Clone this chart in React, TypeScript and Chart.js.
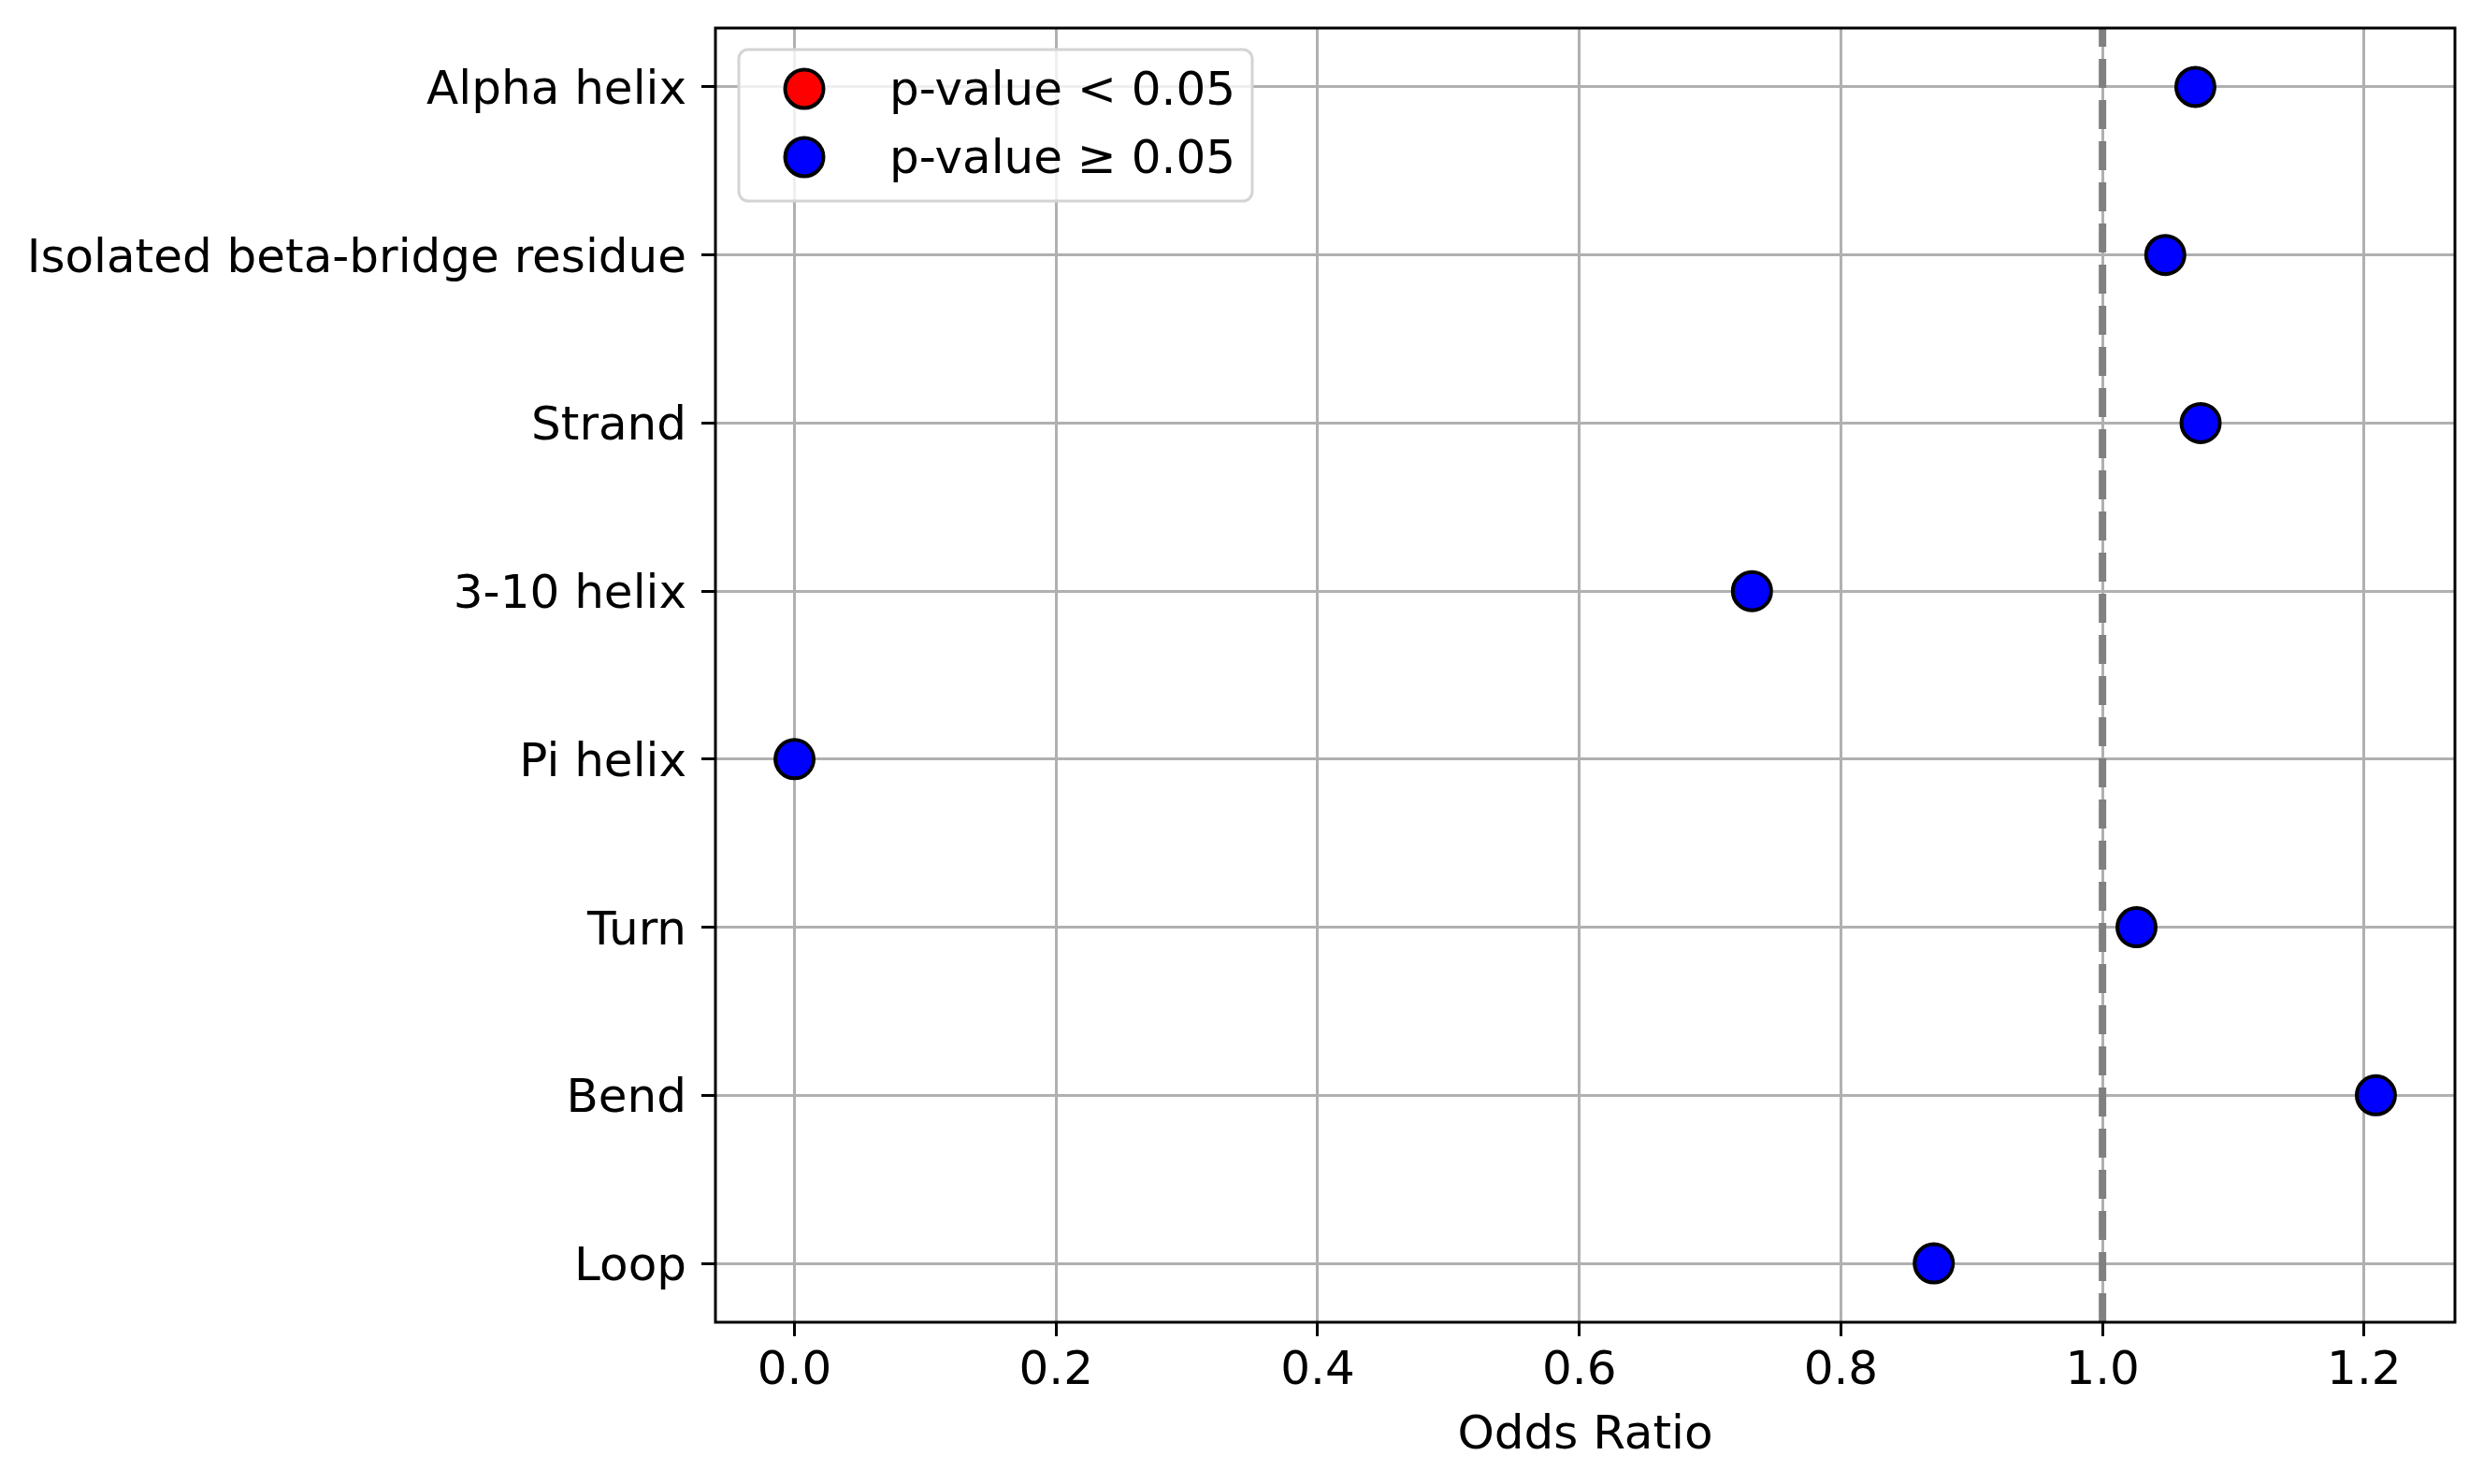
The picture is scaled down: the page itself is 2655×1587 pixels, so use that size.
import React, { useEffect, useRef } from "react";
import { Chart, registerables } from "chart.js";

Chart.register(...registerables);

const categories = [
  "Alpha helix",
  "Isolated beta-bridge residue",
  "Strand",
  "3-10 helix",
  "Pi helix",
  "Turn",
  "Bend",
  "Loop",
];
const oddsRatios = [1.071, 1.048, 1.075, 0.732, 0.0, 1.026, 1.209, 0.871];
// p < 0.05 ? none of them are
const significant = [false, false, false, false, false, false, false, false];

const xTickValues = [0, 0.2, 0.4, 0.6, 0.8, 1.0, 1.2];
const xTickLabels = ["0.0", "0.2", "0.4", "0.6", "0.8", "1.0", "1.2"];
const referenceOdds = 1.0;
const legendLabels = ["p-value < 0.05", "p-value \u2265 0.05"];

const W = 2655;
const H = 1587;
const FONT = "DejaVu Sans";

// matplotlib-style 5% margins
const xLo = Math.min(...oddsRatios);
const xHi = Math.max(...oddsRatios);
const xPad = (xHi - xLo) * 0.05;
const yPad = (categories.length - 1) * 0.05;

const points = (sig: boolean) =>
  oddsRatios
    .map((v, i) => ({ x: v, y: i, keep: significant[i] === sig }))
    .filter((p) => p.keep)
    .map(({ x, y }) => ({ x, y }));

const overlay = {
  id: "overlay",
  afterDraw(chart: any) {
    const { ctx, chartArea: a, scales } = chart;
    ctx.save();

    // reference line at OR = 1
    const rx = scales.x.getPixelForValue(referenceOdds);
    ctx.beginPath();
    ctx.rect(a.left, a.top, a.right - a.left, a.bottom - a.top);
    ctx.clip();
    ctx.strokeStyle = "#808080";
    ctx.lineWidth = 8;
    ctx.setLineDash([31, 13]);
    ctx.beginPath();
    ctx.moveTo(rx, a.bottom);
    ctx.lineTo(rx, a.top);
    ctx.stroke();
    ctx.restore();

    // spines
    ctx.save();
    ctx.strokeStyle = "#000";
    ctx.lineWidth = 3;
    ctx.strokeRect(a.left, a.top, a.right - a.left, a.bottom - a.top);

    // legend box
    const bx = a.left + 25;
    const by = a.top + 23;
    const bw = 549;
    const bh = 162;
    ctx.beginPath();
    ctx.roundRect(bx, by, bw, bh, 10);
    ctx.fillStyle = "rgba(255,255,255,0.8)";
    ctx.fill();
    ctx.strokeStyle = "#d4d4d4";
    ctx.lineWidth = 3;
    ctx.stroke();

    ctx.font = `50px "${FONT}"`;
    ctx.textBaseline = "middle";
    ctx.textAlign = "left";
    chart.data.datasets.forEach((ds: any, i: number) => {
      const cy = by + 42 + i * 73;
      ctx.beginPath();
      ctx.arc(bx + 70, cy, 20.5, 0, Math.PI * 2);
      ctx.fillStyle = ds.backgroundColor;
      ctx.fill();
      ctx.lineWidth = 4;
      ctx.strokeStyle = "#000";
      ctx.stroke();
      ctx.fillStyle = "#000";
      ctx.fillText(legendLabels[i], bx + 161, cy + 4);
    });
    ctx.restore();
  },
};

const App: React.FC = () => {
  const canvasRef = useRef<HTMLCanvasElement | null>(null);

  useEffect(() => {
    if (!canvasRef.current) return;
    const ctx = canvasRef.current.getContext("2d");
    if (!ctx) return;

    const chart = new Chart(ctx, {
      type: "scatter",
      data: {
        datasets: [
          {
            label: legendLabels[0],
            data: points(true),
            backgroundColor: "red",
            borderColor: "#000",
            borderWidth: 4,
            pointRadius: 20.5,
          },
          {
            label: legendLabels[1],
            data: points(false),
            backgroundColor: "blue",
            borderColor: "#000",
            borderWidth: 4,
            pointRadius: 20.5,
          },
        ],
      },
      options: {
        responsive: false,
        animation: false,
        devicePixelRatio: 1,
        events: [],
        layout: { padding: { top: 30, right: 30, left: 0, bottom: 0 } },
        plugins: {
          legend: { display: false },
          tooltip: { enabled: false },
        },
        scales: {
          x: {
            type: "linear",
            min: xLo - xPad,
            max: xHi + xPad,
            z: 1,
            afterBuildTicks: (s: any) => {
              s.ticks = xTickValues.map((v) => ({ value: v }));
            },
            afterFit: (s: any) => {
              s.height = 173;
              s.paddingLeft = 0;
              s.paddingRight = 0;
            },
            grid: {
              color: "#b0b0b0",
              lineWidth: 3,
              tickColor: "#000",
              tickWidth: 3,
              tickLength: 15,
            },
            border: { display: false },
            ticks: {
              color: "#000",
              font: { family: FONT, size: 50 },
              padding: 8,
              maxRotation: 0,
              callback: (v: any) => xTickLabels[xTickValues.indexOf(Number(v))] ?? "",
            },
            title: {
              display: true,
              text: "Odds Ratio",
              color: "#000",
              font: { family: FONT, size: 50 },
              padding: { top: 0, bottom: 21 },
            },
          },
          y: {
            type: "linear",
            reverse: true,
            min: -yPad,
            max: categories.length - 1 + yPad,
            z: 1,
            afterBuildTicks: (s: any) => {
              s.ticks = categories.map((_, i) => ({ value: i }));
            },
            afterFit: (s: any) => {
              s.width = 765;
              s.paddingTop = 0;
              s.paddingBottom = 0;
            },
            grid: {
              color: "#b0b0b0",
              lineWidth: 3,
              tickColor: "#000",
              tickWidth: 3,
              tickLength: 15,
            },
            border: { display: false },
            ticks: {
              color: "#000",
              font: { family: FONT, size: 50 },
              padding: 16,
              labelOffset: 5,
              autoSkip: false,
              callback: (v: any) => categories[Number(v)] ?? "",
            },
          },
        },
      },
      plugins: [overlay],
    });

    return () => {
      chart.destroy();
    };
  }, []);

  return (
    <div style={{ position: "fixed", left: 0, top: 0, width: W, height: H, background: "#fff" }}>
      <canvas ref={canvasRef} width={W} height={H} style={{ display: "block" }} />
    </div>
  );
};

export default App;
